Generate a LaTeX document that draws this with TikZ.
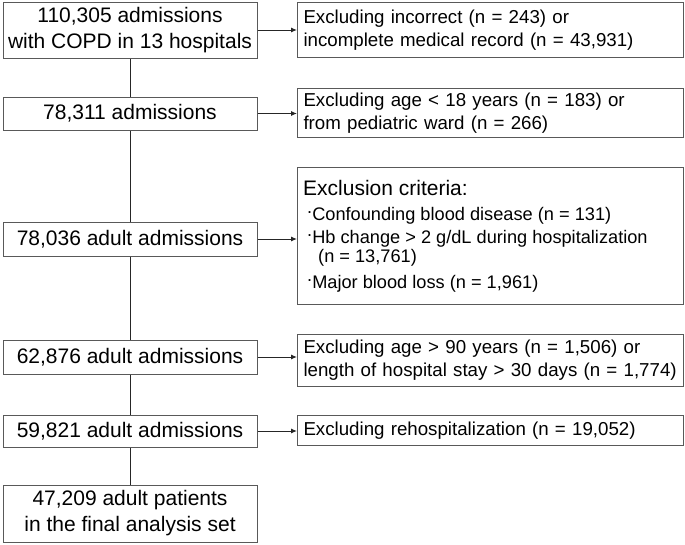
\documentclass[tikz,border=0pt]{standalone}
\usepackage{fontspec}
\setmainfont{Liberation Sans}
\usetikzlibrary{arrows.meta}
\newcommand{\bdot}{\raisebox{0.36em}{.}}
\begin{document}
\begin{tikzpicture}[x=1pt,y=-1pt,
 lbox/.style={draw=black!65, line width=1pt, minimum width=254pt, inner sep=0pt, align=center, font=\fontsize{21}{26}\selectfont, anchor=center},
 rbox/.style={draw=black!65, line width=1pt, inner xsep=6pt, inner ysep=0pt, text width=374pt, align=left, anchor=north west, font=\fontsize{18.7}{23}\selectfont},
 rtext/.style={anchor=base west, inner sep=0pt, font=\fontsize{18.2}{23}\selectfont},
 conn/.style={line width=1pt, black!85},
 arr/.style={conn, -{Latex[length=6pt,width=5pt]}}]
\useasboundingbox (0,0) rectangle (685,544);

% left column
\node[lbox, minimum height=56pt] (L1) at (130,30) {110,305 admissions\\with COPD in 13 hospitals};
\node[lbox, minimum height=33pt] (L2) at (130,113.5) {78,311 admissions};
\node[lbox, minimum height=34pt] (L3) at (130,239) {78,036 adult admissions};
\node[lbox, minimum height=34pt] (L4) at (130,357) {62,876 adult admissions};
\node[lbox, minimum height=32pt] (L5) at (130,431) {59,821 adult admissions};
\node[lbox, minimum height=57pt] (L6) at (130,513.5) {47,209 adult patients\\in the final analysis set};

% right column
\node[rbox, minimum height=55pt] (R1) at (297,2) {Excluding incorrect (n = 243) or\\incomplete medical record (n = 43,931)};
\node[rbox, minimum height=49pt] (R2) at (297,88) {Excluding age < 18 years (n = 183) or\\from pediatric ward (n = 266)};
\node[rbox, minimum height=137pt] (R3) at (297,167) {};
\node[rbox, minimum height=52pt] (R4) at (297,334) {Excluding age > 90 years (n = 1,506) or\\length of hospital stay > 30 days (n = 1,774)};
\node[rbox, minimum height=30pt] (R5) at (297,415) {Excluding rehospitalization (n = 19,052)};

% exclusion criteria text
\node[rtext, font=\fontsize{21}{25}\selectfont] (t0) at (303,195) {Exclusion criteria:};
\node[rtext] (t1) at (307,220) {\bdot Confounding blood disease (n = 131)};
\node[rtext] (t2) at (307,243) {\bdot Hb change > 2 g/dL during hospitalization};
\node[rtext] (t3) at (318,262) {(n = 13,761)};
\node[rtext] (t4) at (307,288) {\bdot Major blood loss (n = 1,961)};

% vertical connectors
\draw[conn] (L1.south) -- (L2.north);
\draw[conn] (L2.south) -- (L3.north);
\draw[conn] (L3.south) -- (L4.north);
\draw[conn] (L4.south) -- (L5.north);
\draw[conn] (L5.south) -- (L6.north);

% arrows
\draw[arr] (L1.east) -- (L1.east -| R1.west);
\draw[arr] (L2.east) -- (L2.east -| R2.west);
\draw[arr] (L3.east) -- (L3.east -| R3.west);
\draw[arr] (L4.east) -- (L4.east -| R4.west);
\draw[arr] (L5.east) -- (L5.east -| R5.west);
\end{tikzpicture}
\end{document}
